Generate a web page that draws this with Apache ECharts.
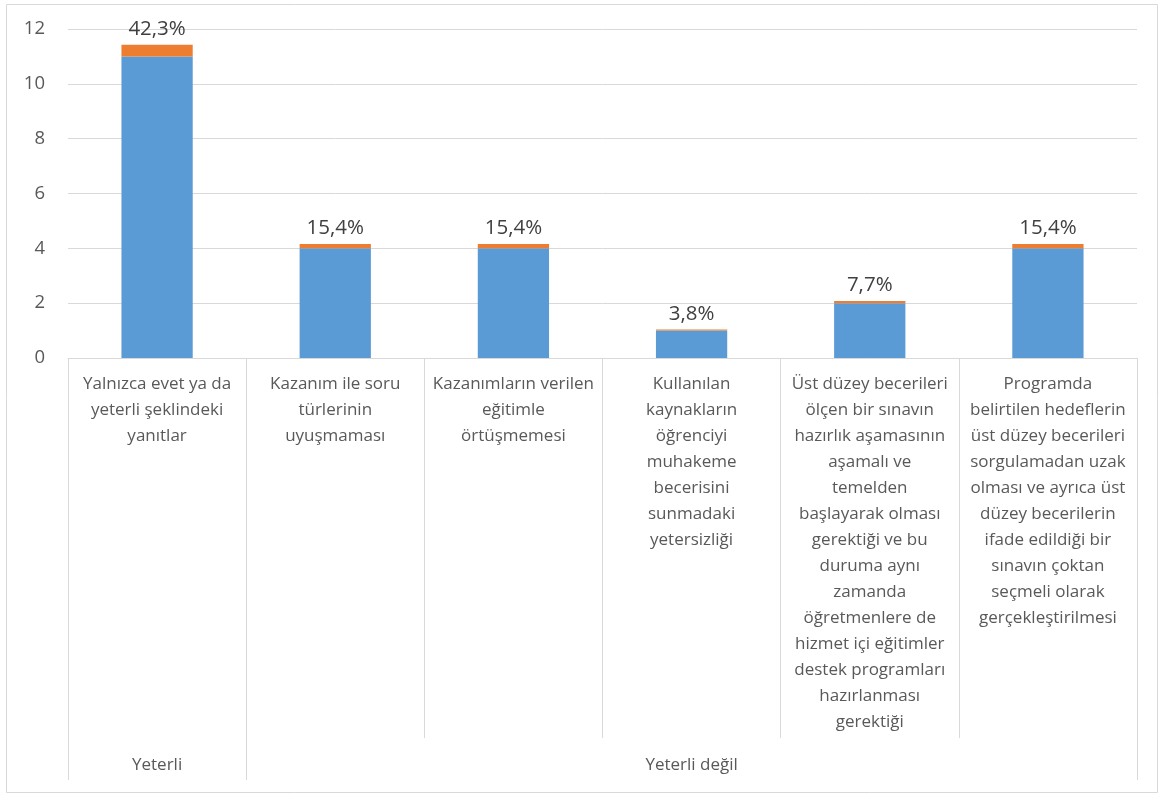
<!DOCTYPE html>
<html><head><meta charset="utf-8">
<script src="https://cdn.jsdelivr.net/npm/echarts@6/dist/echarts.min.js"></script>
<style>html,body{margin:0;padding:0;background:#fff}#c{width:1159px;height:794px}</style>
</head><body><div id="c"></div>
<script>
const categories = [
  'Yalnızca evet ya da\nyeterli şeklindeki\nyanıtlar',
  'Kazanım ile soru\ntürlerinin\nuyuşmaması',
  'Kazanımların verilen\neğitimle\nörtüşmemesi',
  'Kullanılan\nkaynakların\nöğrenciyi\nmuhakeme\nbecerisini\nsunmadaki\nyetersizliği',
  'Üst düzey becerileri\nölçen bir sınavın\nhazırlık aşamasının\naşamalı ve\ntemelden\nbaşlayarak olması\ngerektiği ve bu\nduruma aynı\nzamanda\nöğretmenlere de\nhizmet içi eğitimler\ndestek programları\nhazırlanması\ngerektiği',
  'Programda\nbelirtilen hedeflerin\nüst düzey becerileri\nsorgulamadan uzak\nolması ve ayrıca üst\ndüzey becerilerin\nifade edildiği bir\nsınavın çoktan\nseçmeli olarak\ngerçekleştirilmesi'
];
const groups = ['Yeterli', 'Yeterli değil'];
const groupSizes = [1, 5];
const counts = [11, 4, 4, 1, 2, 4];
const percents = [42.3, 15.4, 15.4, 3.8, 7.7, 15.4];
const yTicks = [0, 2, 4, 6, 8, 10, 12];

const FONT = 'Open Sans';
const bounds = [0];
groupSizes.forEach(s => bounds.push(bounds[bounds.length - 1] + s));
const centers = groupSizes.map((s, i) => bounds[i] + s / 2);

const chart = echarts.init(document.getElementById('c'));
chart.setOption({
  animation: false,
  textStyle: { fontFamily: FONT },
  graphic: [{
    type: 'rect', left: 4, top: 2, shape: { width: 1151, height: 788 },
    style: { fill: 'none', stroke: '#d9d9d9', lineWidth: 1 }, silent: true
  }],
  grid: { left: 68, right: 22, top: 29, bottom: 436 },
  xAxis: [{
    type: 'category', data: categories, position: 'bottom',
    axisLine: { lineStyle: { color: '#d9d9d9' } },
    axisTick: { show: true, interval: 0, length: 380, lineStyle: { color: '#d9d9d9' } },
    axisLabel: { interval: 0, margin: 13, color: '#595959', fontSize: 17, lineHeight: 26, fontFamily: FONT, align: 'center' }
  }, {
    type: 'value', min: 0, max: bounds[bounds.length - 1], position: 'bottom',
    axisLine: { show: false },
    splitLine: { show: false },
    axisTick: { show: true, length: 422, customValues: bounds, lineStyle: { color: '#d9d9d9' } },
    axisLabel: { show: true, customValues: centers, margin: 399, color: '#595959', fontSize: 17, fontFamily: FONT,
      formatter: v => { const i = centers.indexOf(v); return i >= 0 ? groups[i] : ''; } }
  }],
  yAxis: {
    type: 'value', min: 0, max: 12, interval: 2,
    axisLine: { show: false }, axisTick: { show: false },
    splitLine: { lineStyle: { color: '#d9d9d9' } },
    axisLabel: { color: '#595959', fontSize: 18.5, margin: 23, fontFamily: FONT,
      formatter: v => yTicks.includes(v) ? String(v) : '' }
  },
  series: [{
    type: 'bar', stack: 's', data: counts, barWidth: '40%',
    itemStyle: { color: '#5b9bd5' }
  }, {
    type: 'bar', stack: 's', data: percents.map(p => p / 100), barWidth: '40%',
    itemStyle: { color: '#ed7d31' },
    label: { show: true, position: 'top', distance: 5, color: '#404040', fontSize: 20.5, fontFamily: FONT,
      formatter: p => percents[p.dataIndex].toFixed(1).replace('.', ',') + '%' }
  }]
});
</script></body></html>
